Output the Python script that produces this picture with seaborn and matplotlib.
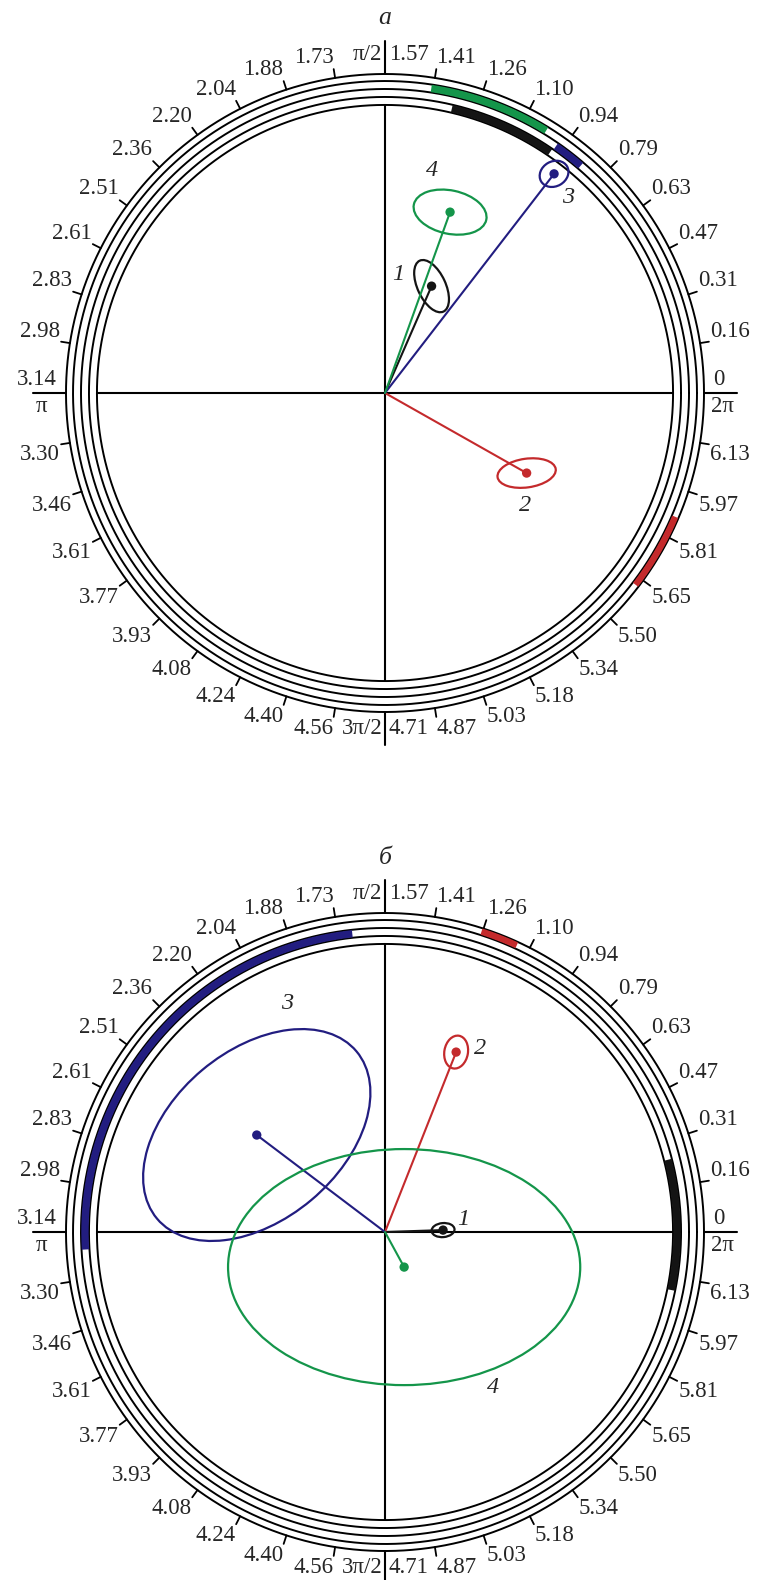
"""Two circular phase diagrams (panels a and б) with vectors, error ellipses and arc ranges."""

import matplotlib
matplotlib.use("Agg")
import numpy as np
import matplotlib.pyplot as plt
from matplotlib.patches import Ellipse
import seaborn as sns

sns.set_style("white")
plt.rcParams["font.family"] = ["Liberation Serif", "DejaVu Serif"]

# tick labels around the circle (every pi/20), as printed
tick_labels = ["0", "0.16", "0.31", "0.47", "0.63", "0.79", "0.94", "1.10", "1.26", "1.41",
               "1.57", "1.73", "1.88", "2.04", "2.20", "2.36", "2.51", "2.61", "2.83", "2.98",
               "3.14", "3.30", "3.46", "3.61", "3.77", "3.93", "4.08", "4.24", "4.40", "4.56",
               "4.71", "4.87", "5.03", "5.18", "5.34", "5.50", "5.65", "5.81", "5.97", "6.13"]

series = ["1", "2", "3", "4"]
colors = {"1": "#141414", "2": "#c42a2c", "3": "#221d80", "4": "#14954a"}
ring_band = {"1": 0, "3": 1, "4": 2, "2": 3}   # 0 = innermost band

# panel a (unit = radius of outer ring)
a_x = [0.146, 0.444, 0.530, 0.204]
a_y = [0.335, -0.251, 0.687, 0.567]
a_ell_w = [0.088, 0.092, 0.047, 0.116]
a_ell_h = [0.044, 0.045, 0.039, 0.068]
a_ell_ang = [-65, 8, 30, -12]
a_arc_from = [0.97, 5.63, 0.86, 1.02]
a_arc_to = [1.34, 5.88, 0.965, 1.42]
a_lab_x = [0.041, 0.439, 0.574, 0.148]
a_lab_y = [0.370, -0.354, 0.612, 0.696]

# panel б
b_x = [0.182, 0.223, -0.402, 0.060]
b_y = [0.006, 0.564, 0.304, -0.110]
b_ell_w = [0.022, 0.052, 0.408, 0.552]
b_ell_h = [0.036, 0.037, 0.266, 0.370]
b_ell_ang = [95, 80, 40, 0]
b_arc_from = [-0.20, 1.14, 1.68, 0.0]
b_arc_to = [0.25, 1.26, 3.20, 0.0]
b_lab_x = [0.245, 0.299, -0.307, 0.339]
b_lab_y = [0.040, 0.576, 0.717, -0.487]

panels = {
    "a": dict(x=a_x, y=a_y, w=a_ell_w, h=a_ell_h, ang=a_ell_ang, t0=a_arc_from, t1=a_arc_to,
              lx=a_lab_x, ly=a_lab_y),
    "b": dict(x=b_x, y=b_y, w=b_ell_w, h=b_ell_h, ang=b_ell_ang, t0=b_arc_from, t1=b_arc_to,
              lx=b_lab_x, ly=b_lab_y),
}

R_OUT = 1.0
radii = [0.903, 0.928, 0.953, 0.978, 1.0]
PX = 319.0   # pixels per unit
FS = 16.5


def draw_frame(ax):
    th = np.linspace(0, 2 * np.pi, 720)
    for r in radii:
        ax.plot(r * np.cos(th), r * np.sin(th), color="black", lw=1.4)
    r0 = radii[0]
    ext = 0.105
    ax.plot([-r0, r0], [0, 0], color="black", lw=1.5)
    ax.plot([0, 0], [-r0, r0], color="black", lw=1.5)
    for sx, sy in [(1, 0), (-1, 0), (0, 1), (0, -1)]:
        ax.plot([sx * R_OUT, sx * (R_OUT + ext)], [sy * R_OUT, sy * (R_OUT + ext)],
                color="black", lw=1.5)
    tl = 0.028
    for k, lab in enumerate(tick_labels):
        t = k * np.pi / 20
        c, s = np.cos(t), np.sin(t)
        if k % 10 == 0:
            continue
        ax.plot([c * R_OUT, c * (R_OUT + tl)], [s * R_OUT, s * (R_OUT + tl)], color="black", lw=1.3)
        rr = R_OUT + tl + 0.004
        ha = "left" if c > 0 else "right"
        va = "bottom" if s > 0 else "top"
        ax.text(c * rr, s * rr, lab, ha=ha, va=va, fontsize=FS)
    # axis ends
    ax.text(1.047, 0.010, "0", ha="center", va="bottom", fontsize=FS)
    ax.text(1.058, -0.010, "2π", ha="center", va="top", fontsize=FS)
    ax.text(-1.030, 0.010, "3.14", ha="right", va="bottom", fontsize=FS)
    ax.text(-1.078, -0.010, "π", ha="center", va="top", fontsize=FS)
    ax.text(-0.008, 1.062, "π/2", ha="right", va="center", fontsize=FS)
    ax.text(0.012, 1.062, "1.57", ha="left", va="center", fontsize=FS)
    ax.text(-0.008, -1.052, "3π/2", ha="right", va="center", fontsize=FS)
    ax.text(0.012, -1.052, "4.71", ha="left", va="center", fontsize=FS)


def draw_panel(ax, d):
    draw_frame(ax)
    for i, s in enumerate(series):
        col = colors[s]
        # arc range in its ring band
        if d["t1"][i] != d["t0"][i]:
            b = ring_band[s]
            rin, rout = radii[b] + 0.001, radii[b + 1] - 0.001
            tt = np.linspace(d["t0"][i], d["t1"][i], 200)
            xs = np.concatenate([rout * np.cos(tt), rin * np.cos(tt[::-1])])
            ys = np.concatenate([rout * np.sin(tt), rin * np.sin(tt[::-1])])
            ax.fill(xs, ys, color=col, lw=0, zorder=3)
        ax.plot([0, d["x"][i]], [0, d["y"][i]], color=col, lw=1.5, zorder=4)
        ax.add_patch(Ellipse((d["x"][i], d["y"][i]), 2 * d["w"][i], 2 * d["h"][i],
                             angle=d["ang"][i], fill=False, ec=col, lw=1.6, zorder=4))
        ax.text(d["lx"][i], d["ly"][i], s, ha="center", va="center", fontsize=FS + 1,
                style="italic", zorder=5)
    sns.scatterplot(x=d["x"], y=d["y"], hue=series, palette=colors, s=45, linewidth=0,
                    legend=False, ax=ax, zorder=6)


fig = plt.figure(figsize=(7.63, 15.80), dpi=100)
ax_a = fig.add_axes([0, 0.5, 1, 0.5])
ax_b = fig.add_axes([0, 0.0, 1, 0.5])

draw_panel(ax_a, panels["a"])
draw_panel(ax_b, panels["b"])

xl = (-385 / PX, 378 / PX)
ax_a.set_xlim(*xl)
ax_a.set_ylim(-(790 - 393) / PX, 393 / PX)
ax_b.set_xlim(*xl)
ax_b.set_ylim(-(790 - 442) / PX, 442 / PX)
ax_a.text(0.0, (393 - 18) / PX, "а", ha="center", va="center", fontsize=FS + 2, style="italic")
ax_b.text(0.0, (442 - 68) / PX, "б", ha="center", va="center", fontsize=FS + 2, style="italic")

for ax in (ax_a, ax_b):
    ax.set_axis_off()

fig.savefig("out.png", dpi=100)
plt.close(fig)
